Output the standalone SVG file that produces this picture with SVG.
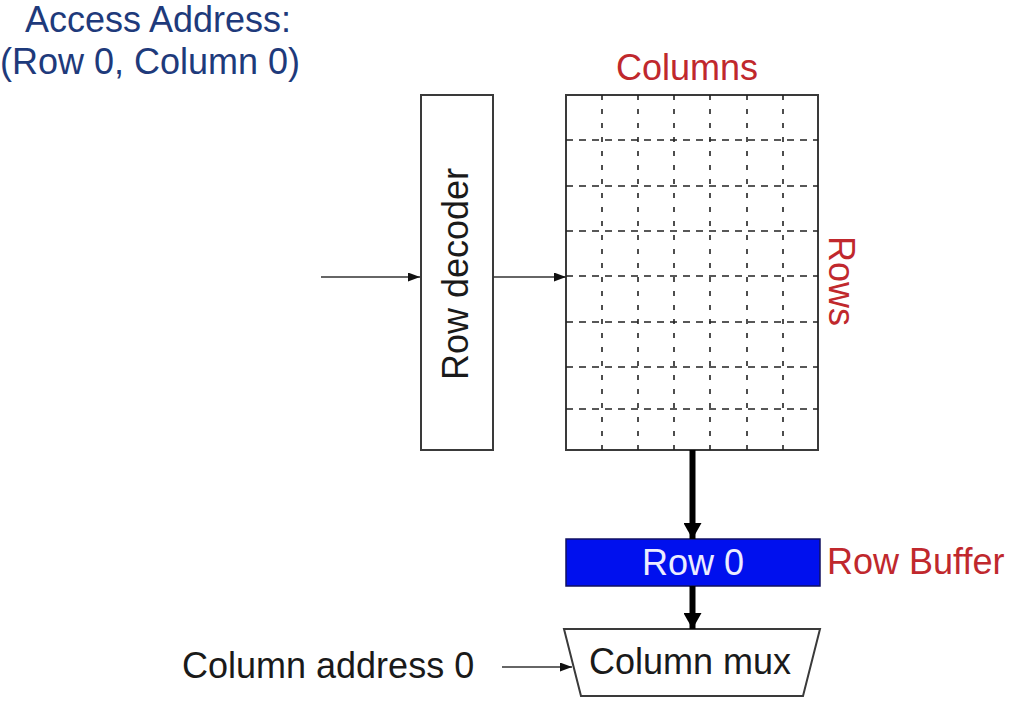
<svg xmlns="http://www.w3.org/2000/svg" width="1032" height="716" viewBox="0 0 1032 716">
<style>
text{font-family:"Liberation Sans",Arial,sans-serif;font-size:36px}
.blk{fill:#1a1a1a}
.red{fill:#c0282d}
.navy{fill:#1e3a7b}
.box{fill:#fff;stroke:#3a3a3a;stroke-width:2}
.thin{stroke:#333;stroke-width:1.6;fill:none}
.thick{stroke:#000;stroke-width:6;fill:none}
.hd{stroke:#222;stroke-width:1.6;stroke-dasharray:7 6}
.vd{stroke:#222;stroke-width:1.6;stroke-dasharray:5 9}
</style>
<defs>
<marker id="sa" viewBox="0 0 12 9" refX="12" refY="4.5" markerWidth="12" markerHeight="9" markerUnits="userSpaceOnUse" orient="auto"><path d="M0,0L12,4.5L0,9z" fill="#111"/></marker>
<marker id="ba" viewBox="0 0 16 18" refX="16" refY="9" markerWidth="16" markerHeight="18" markerUnits="userSpaceOnUse" orient="auto"><path d="M0,0L16,9L0,18z" fill="#000"/></marker>
</defs>
<rect width="1032" height="716" fill="#fff"/>
<g id="title">
<text class="navy" x="25" y="32">Access Address:</text>
<text class="navy" x="0" y="74">(Row 0, Column 0)</text>
</g>
<g id="row-decoder">
<rect class="box" x="421" y="95" width="72" height="355"/>
<text class="blk" transform="translate(468,274) rotate(-90)" text-anchor="middle">Row decoder</text>
</g>
<g id="array">
<rect class="box" x="566" y="95" width="252" height="355"/>
<g class="hd">
<line x1="566" y1="140" x2="818" y2="140"/>
<line x1="566" y1="186" x2="818" y2="186"/>
<line x1="566" y1="231" x2="818" y2="231"/>
<line x1="566" y1="276" x2="818" y2="276"/>
<line x1="566" y1="322" x2="818" y2="322"/>
<line x1="566" y1="367" x2="818" y2="367"/>
<line x1="566" y1="409" x2="818" y2="409"/>
</g>
<g class="vd">
<line x1="602" y1="95" x2="602" y2="450"/>
<line x1="638" y1="95" x2="638" y2="450"/>
<line x1="674" y1="95" x2="674" y2="450"/>
<line x1="710" y1="95" x2="710" y2="450"/>
<line x1="747" y1="95" x2="747" y2="450"/>
<line x1="783" y1="95" x2="783" y2="450"/>
</g>
<text class="red" x="687" y="80" text-anchor="middle">Columns</text>
<text class="red" transform="translate(829,281) rotate(90)" text-anchor="middle">Rows</text>
</g>
<g id="row-buffer">
<rect x="566" y="539" width="254" height="47" fill="#0010ee" stroke="#101060" stroke-width="1.5"/>
<text x="693" y="575" text-anchor="middle" fill="#ececff">Row 0</text>
<text class="red" x="827" y="574">Row Buffer</text>
</g>
<g id="column-mux">
<path class="box" d="M564,629L820,629L803,696L581,696z"/>
<text class="blk" x="690" y="674" text-anchor="middle">Column mux</text>
</g>
<g id="column-address">
<text class="blk" x="182" y="678">Column address 0</text>
</g>
<g id="connectors">
<line class="thin" x1="321" y1="277" x2="420" y2="277" marker-end="url(#sa)"/>
<line class="thin" x1="493" y1="277" x2="566" y2="277" marker-end="url(#sa)"/>
<line class="thick" x1="692.5" y1="450" x2="692.5" y2="539" marker-end="url(#ba)"/>
<line class="thick" x1="692.5" y1="586" x2="692.5" y2="629" marker-end="url(#ba)"/>
<line class="thin" x1="502" y1="667" x2="572" y2="667" marker-end="url(#sa)"/>
</g>
</svg>
